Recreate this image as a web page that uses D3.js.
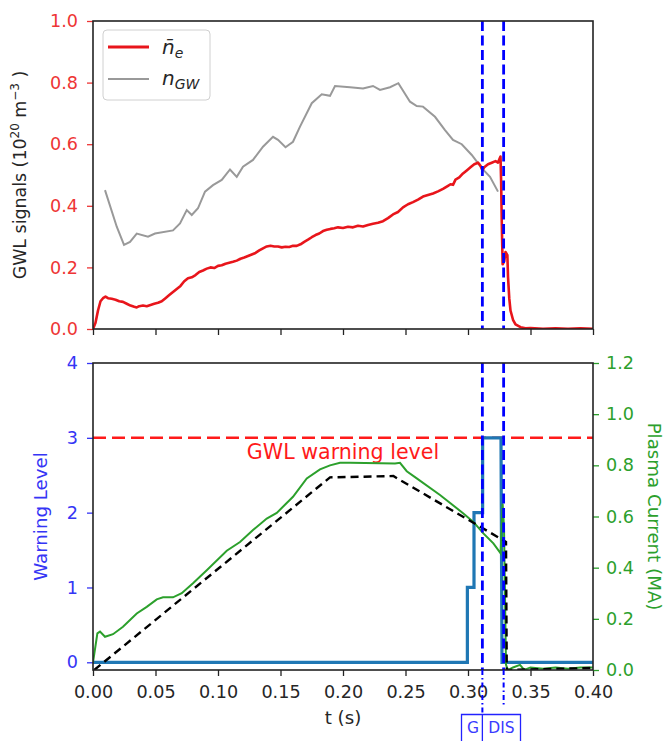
<!DOCTYPE html>
<html><head><meta charset="utf-8">
<script src="https://cdn.jsdelivr.net/npm/d3@7"></script>
<style>
body{margin:0;background:#fff;}
svg{font-family:"DejaVu Sans",sans-serif;}
</style></head>
<body><svg id="c" width="671" height="741"></svg>
<script>
// ---- data ----
const neT = [0,0.002,0.004,0.006,0.008,0.010,0.012,0.015,0.018,0.021,0.024,0.027,0.030,0.033,0.035,0.037,0.040,0.043,0.046,0.049,0.052,0.055,0.058,0.061,0.064,0.067,0.070,0.073,0.076,0.079,0.082,0.085,0.088,0.091,0.094,0.097,0.100,0.103,0.106,0.109,0.112,0.115,0.118,0.121,0.124,0.127,0.130,0.133,0.136,0.139,0.142,0.145,0.148,0.151,0.154,0.157,0.160,0.163,0.166,0.169,0.172,0.175,0.178,0.181,0.184,0.187,0.190,0.193,0.196,0.200,0.204,0.208,0.212,0.216,0.220,0.224,0.228,0.232,0.236,0.240,0.244,0.248,0.252,0.256,0.260,0.264,0.268,0.272,0.276,0.280,0.284,0.286,0.288,0.290,0.293,0.296,0.299,0.302,0.305,0.308,0.310,0.3115,0.313,0.316,0.319,0.322,0.324,0.325,0.326,0.3265,0.327,0.3277,0.329,0.330,0.3315,0.332,0.333,0.334,0.336,0.338,0.342,0.346,0.350,0.360,0.370,0.380,0.390,0.400];
const neV = [0,0.02,0.06,0.09,0.10,0.105,0.10,0.098,0.095,0.09,0.088,0.082,0.076,0.072,0.07,0.074,0.076,0.074,0.078,0.082,0.085,0.09,0.10,0.11,0.12,0.13,0.14,0.155,0.165,0.168,0.175,0.185,0.19,0.196,0.20,0.198,0.205,0.207,0.212,0.215,0.218,0.222,0.228,0.232,0.237,0.242,0.247,0.255,0.262,0.268,0.27,0.268,0.268,0.265,0.267,0.266,0.27,0.27,0.275,0.283,0.29,0.298,0.305,0.31,0.318,0.322,0.325,0.327,0.33,0.328,0.332,0.33,0.335,0.333,0.338,0.342,0.345,0.35,0.36,0.372,0.38,0.395,0.405,0.412,0.42,0.43,0.435,0.44,0.447,0.455,0.465,0.47,0.468,0.485,0.492,0.505,0.515,0.525,0.535,0.54,0.53,0.515,0.525,0.535,0.54,0.545,0.54,0.55,0.56,0.48,0.35,0.21,0.22,0.25,0.24,0.17,0.10,0.06,0.03,0.015,0.006,0.002,0.003,0.001,0.002,0.001,0.002,0.001];
const gwT = [0.0096,0.019,0.0248,0.0296,0.035,0.044,0.0496,0.064,0.0696,0.075,0.079,0.084,0.0896,0.096,0.103,0.1096,0.115,0.120,0.128,0.136,0.144,0.148,0.154,0.160,0.1656,0.175,0.183,0.1896,0.1936,0.2056,0.216,0.224,0.2296,0.2376,0.2443,0.2536,0.259,0.264,0.2736,0.2816,0.288,0.295,0.303,0.311,0.3176,0.324];
const gwV = [0.451,0.332,0.273,0.283,0.31,0.30,0.31,0.32,0.343,0.386,0.37,0.392,0.446,0.467,0.484,0.518,0.494,0.527,0.549,0.592,0.624,0.614,0.59,0.608,0.657,0.733,0.762,0.757,0.789,0.785,0.781,0.789,0.776,0.785,0.798,0.738,0.724,0.722,0.689,0.646,0.614,0.60,0.565,0.522,0.494,0.446];
const warnT = [0,0.2995,0.2995,0.3048,0.3048,0.3117,0.3117,0.3264,0.3272,0.40];
const warnV = [0,0,1,1,2,2,3,3,0,0];
const ipT = [0,0.0035,0.0056,0.0096,0.016,0.024,0.035,0.043,0.051,0.056,0.064,0.071,0.080,0.091,0.107,0.1176,0.128,0.139,0.147,0.160,0.171,0.1816,0.1896,0.1976,0.2056,0.2416,0.2456,0.251,0.259,0.2776,0.2963,0.3043,0.3123,0.3203,0.3261,0.3277,0.3288,0.3304,0.332,0.336,0.3416,0.345,0.350,0.360,0.370,0.380,0.390,0.400];
const ipV = [0.03,0.143,0.15,0.13,0.14,0.169,0.221,0.247,0.276,0.284,0.284,0.30,0.339,0.39,0.466,0.50,0.547,0.592,0.614,0.677,0.749,0.784,0.80,0.81,0.81,0.807,0.81,0.777,0.749,0.684,0.612,0.579,0.534,0.495,0.456,0.651,0.56,0.02,0.0,0.01,0.02,0.0,0.01,0.005,0.01,0.005,0.01,0.01];
const refT = [0.001,0.1896,0.2403,0.3304,0.331,0.40];
const refV = [0.0,0.753,0.758,0.501,0.0,0.008];
const eventT = [0.3115, 0.3285];
const eventLabels = ["G","DIS"];
const xTicks = [0,0.05,0.10,0.15,0.20,0.25,0.30,0.35,0.40];
const topTicks = [0,0.2,0.4,0.6,0.8,1.0];
const warnTicks = [0,1,2,3,4];
const ipTicks = [0,0.2,0.4,0.6,0.8,1.0,1.2];
const warningLevel = 3;

// ---- drawing ----
const svg = d3.select("#c");
const L=93,R=593, T1=21,B1=329, T2=363,B2=670;
const FS=17.6, LFS=18.2;
const x = d3.scaleLinear().domain([0,0.4]).range([L,R]);
const yTop = d3.scaleLinear().domain([0,1]).range([B1,T1]);
const yW = d3.scaleLinear().domain([-0.103,4]).range([B2,T2]);
const yI = d3.scaleLinear().domain([0,1.2]).range([B2,T2]);

const cRed="#e8151b", cRedTxt="#ee3535", cBlueTxt="#3535f5", cGreen="#2ca02c", cTab="#1f77b4";

function styleAxis(g, col){
  g.selectAll(".domain").remove();
  g.selectAll("line").attr("stroke", col||"#222").attr("stroke-width",1.3);
  g.selectAll("text").attr("font-size",FS).attr("fill", col||"#262626").attr("font-family","DejaVu Sans");
}

// clip paths
const defs = svg.append("defs");
defs.append("clipPath").attr("id","cp1").append("rect").attr("x",L).attr("y",T1).attr("width",R-L).attr("height",B1-T1);
defs.append("clipPath").attr("id","cp2").append("rect").attr("x",L).attr("y",T2).attr("width",R-L).attr("height",B2-T2);

// ===== top panel =====
const p1 = svg.append("g").attr("clip-path","url(#cp1)");
const gw = d3.zip(gwT,gwV), ne = d3.zip(neT,neV);
p1.append("path").datum(gw).attr("fill","none").attr("stroke","#999").attr("stroke-width",2)
  .attr("d", d3.line().x(d=>x(d[0])).y(d=>yTop(d[1])));
p1.append("path").datum(ne).attr("fill","none").attr("stroke",cRed).attr("stroke-width",2.6).attr("stroke-linejoin","round")
  .attr("d", d3.line().x(d=>x(d[0])).y(d=>yTop(d[1])));
eventT.forEach(t=>{
  p1.append("line").attr("x1",x(t)).attr("x2",x(t)).attr("y1",T1).attr("y2",B1)
    .attr("stroke","#0000ff").attr("stroke-width",2.8).attr("stroke-dasharray","10,4.5");
});
svg.append("g").attr("transform",`translate(0,${B1})`).call(d3.axisBottom(x).tickValues(xTicks).tickSize(6).tickFormat(""))
  .call(g=>styleAxis(g));
svg.append("g").attr("transform",`translate(${L},0)`).call(d3.axisLeft(yTop).tickValues(topTicks).tickSize(6).tickPadding(9).tickFormat(d3.format(".1f")))
  .call(g=>styleAxis(g,cRedTxt));
svg.append("rect").attr("x",L).attr("y",T1).attr("width",R-L).attr("height",B1-T1).attr("fill","none").attr("stroke","#222").attr("stroke-width",1.6);

// y label top
const yl1 = svg.append("text").attr("transform",`translate(26,${(T1+B1)/2}) rotate(-90)`).attr("text-anchor","middle")
  .attr("font-size",17.4).attr("fill","#262626");
yl1.append("tspan").text("GWL signals (10");
yl1.append("tspan").attr("font-size",12).attr("dy",-7).text("20");
yl1.append("tspan").attr("dy",7).text(" m");
yl1.append("tspan").attr("font-size",12).attr("dy",-7).text("\u22123");
yl1.append("tspan").attr("dy",7).text(" )");

// legend
const lg = svg.append("g");
lg.append("rect").attr("x",103).attr("y",30).attr("width",107).attr("height",70).attr("rx",4)
  .attr("fill","#fff").attr("fill-opacity",0.8).attr("stroke","#d0d0d0").attr("stroke-width",1);
lg.append("line").attr("x1",108).attr("x2",149).attr("y1",47).attr("y2",47).attr("stroke",cRed).attr("stroke-width",2.8);
lg.append("line").attr("x1",108).attr("x2",149).attr("y1",79).attr("y2",79).attr("stroke","#999").attr("stroke-width",2);
const t1 = lg.append("text").attr("x",162).attr("y",54).attr("font-size",20).attr("fill","#262626").attr("font-style","italic");
t1.append("tspan").text("n\u0304");
t1.append("tspan").attr("font-size",14).attr("dy",4).text("e");
const t2 = lg.append("text").attr("x",162).attr("y",85).attr("font-size",20).attr("fill","#262626").attr("font-style","italic");
t2.append("tspan").text("n");
t2.append("tspan").attr("font-size",14).attr("dy",4).text("GW");

// ===== bottom panel =====
const p2 = svg.append("g").attr("clip-path","url(#cp2)");
p2.append("line").attr("x1",L).attr("x2",R).attr("y1",yW(warningLevel)).attr("y2",yW(warningLevel))
  .attr("stroke","#ff1a1a").attr("stroke-width",2.4).attr("stroke-dasharray","13,6");
p2.append("text").attr("x",x(0.2)).attr("y",yW(warningLevel)+21).attr("text-anchor","middle")
  .attr("font-size",20.6).attr("fill","#ff1a1a").text("GWL warning level");
p2.append("path").datum(d3.zip(warnT,warnV)).attr("fill","none").attr("stroke",cTab).attr("stroke-width",3.2)
  .attr("d", d3.line().x(d=>x(d[0])).y(d=>yW(d[1])));
p2.append("path").datum(d3.zip(ipT,ipV)).attr("fill","none").attr("stroke",cGreen).attr("stroke-width",2)
  .attr("d", d3.line().x(d=>x(d[0])).y(d=>yI(d[1])));
p2.append("path").datum(d3.zip(refT,refV)).attr("fill","none").attr("stroke","#000").attr("stroke-width",2.4).attr("stroke-dasharray","8,5")
  .attr("d", d3.line().x(d=>x(d[0])).y(d=>yI(d[1])));
eventT.forEach(t=>{
  p2.append("line").attr("x1",x(t)).attr("x2",x(t)).attr("y1",T2).attr("y2",B2)
    .attr("stroke","#0000ff").attr("stroke-width",2.8).attr("stroke-dasharray","10,4.5");
});
svg.append("g").attr("transform",`translate(0,${B2})`).call(d3.axisBottom(x).tickValues(xTicks).tickSize(6).tickPadding(10).tickFormat(d3.format(".2f")))
  .call(g=>styleAxis(g));
svg.append("g").attr("transform",`translate(${L},0)`).call(d3.axisLeft(yW).tickValues(warnTicks).tickSize(6).tickPadding(9).tickFormat(d3.format("d")))
  .call(g=>styleAxis(g,cBlueTxt));
svg.append("g").attr("transform",`translate(${R},0)`).call(d3.axisRight(yI).tickValues(ipTicks).tickSize(6).tickPadding(7).tickFormat(d3.format(".1f")))
  .call(g=>styleAxis(g,cGreen));
svg.append("rect").attr("x",L).attr("y",T2).attr("width",R-L).attr("height",B2-T2).attr("fill","none").attr("stroke","#222").attr("stroke-width",1.6);

svg.append("text").attr("transform",`translate(47,${(T2+B2)/2}) rotate(-90)`).attr("text-anchor","middle")
  .attr("font-size",LFS).attr("fill",cBlueTxt).text("Warning Level");
svg.append("text").attr("transform",`translate(648,${(T2+B2)/2}) rotate(90)`).attr("text-anchor","middle")
  .attr("font-size",LFS).attr("fill",cGreen).text("Plasma Current (MA)");
svg.append("text").attr("x",(L+R)/2).attr("y",724).attr("text-anchor","middle").attr("font-size",LFS).attr("fill","#262626").text("t (s)");

// event markers below axis
const boxTop = 714.5;
svg.append("line").attr("x1",x(eventT[0])).attr("x2",x(eventT[0])).attr("y1",B2).attr("y2",boxTop)
  .attr("stroke","#0000ff").attr("stroke-width",2).attr("stroke-dasharray","5,3,1.5,3");
svg.append("line").attr("x1",x(eventT[1])).attr("x2",x(eventT[1])).attr("y1",B2).attr("y2",706)
  .attr("stroke","#0000ff").attr("stroke-width",2).attr("stroke-dasharray","5,3,1.5,3");
const bx = [461.5, x(eventT[0]), 520.5];
svg.append("path").attr("fill","none").attr("stroke","#2222ff").attr("stroke-width",1.3)
  .attr("d",`M${bx[0]},745V${boxTop}H${bx[2]}V745M${bx[1]},${boxTop}V745`);
svg.append("text").attr("x",(bx[0]+bx[1])/2+1).attr("y",733).attr("text-anchor","middle").attr("font-size",15.5).attr("fill","#3b3bff").text(eventLabels[0]);
svg.append("text").attr("x",(bx[1]+bx[2])/2).attr("y",733).attr("text-anchor","middle").attr("font-size",15.5).attr("fill","#3b3bff").text(eventLabels[1]);
</script></body></html>
